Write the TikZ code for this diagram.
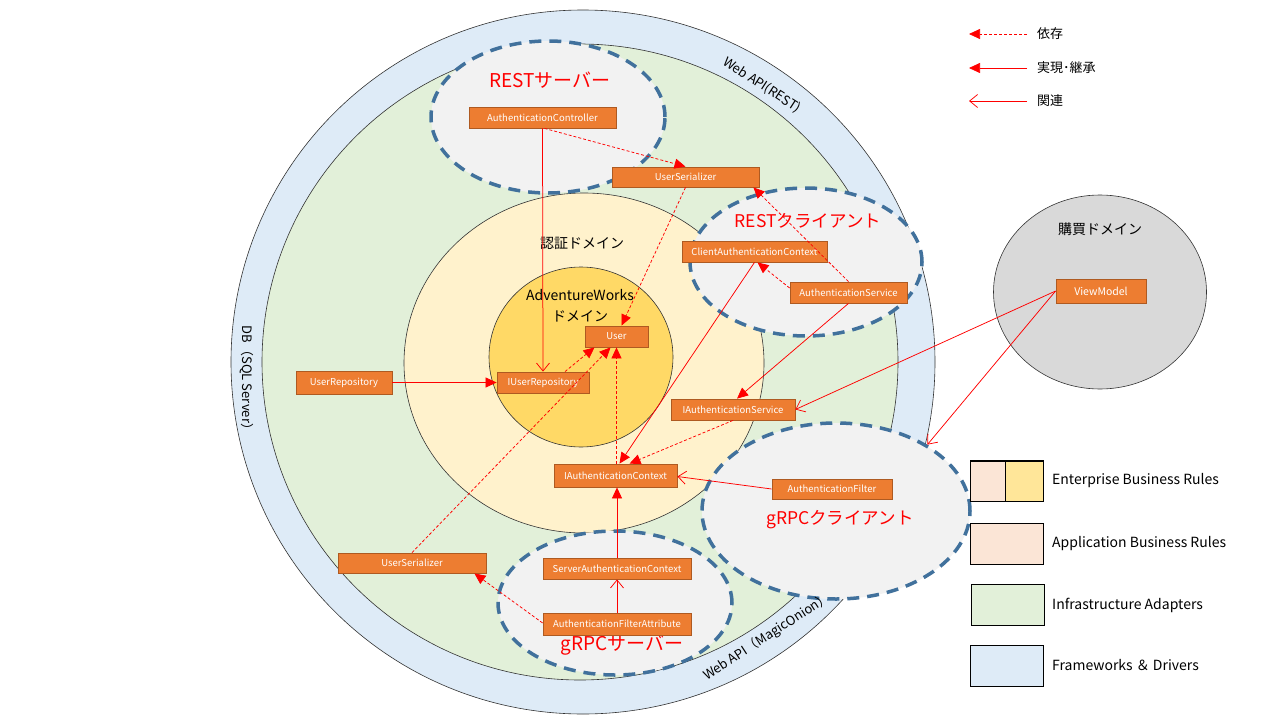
\documentclass[tikz,border=0pt]{standalone}
\usepackage{fontspec}
\setmainfont{Noto Sans CJK JP}
\usetikzlibrary{arrows.meta,shapes.geometric}
\definecolor{fwblue}{HTML}{DEEBF7}
\definecolor{infgreen}{HTML}{E2F0D9}
\definecolor{appyellow}{HTML}{FFF2CC}
\definecolor{entgold}{HTML}{FFD966}
\definecolor{zonegray}{HTML}{F2F2F2}
\definecolor{zoneedge}{HTML}{41719C}
\definecolor{boxorange}{HTML}{ED7D31}
\definecolor{boxedge}{HTML}{AE5A21}
\definecolor{domgray}{HTML}{D9D9D9}
\definecolor{lgpink}{HTML}{FBE5D6}
\definecolor{lgyellow}{HTML}{FFE699}
\definecolor{arrred}{HTML}{FF0000}
\begin{document}
\begin{tikzpicture}[x=1pt,y=-1pt,
  cls/.style={draw=boxedge, fill=boxorange, text=white, font=\fontsize{9.5}{10}\selectfont, minimum height=21pt, inner sep=0pt, line width=0.8pt},
  zone/.style={ellipse, draw=zoneedge, fill=zonegray, line width=3.5pt, dash pattern=on 12pt off 8pt, inner sep=0pt},
  ring/.style={draw=black!80, line width=0.6pt},
  dep/.style={draw=arrred, line width=0.75pt, dash pattern=on 3pt off 2pt, -{Triangle[length=11pt,width=10pt]}},
  real/.style={draw=arrred, line width=0.75pt, -{Triangle[length=11pt,width=10pt]}},
  assoc/.style={draw=arrred, line width=0.75pt, -{Straight Barb[length=8pt,width=13pt]}},
  zonelabel/.style={text=arrred, font=\fontsize{19}{20}\selectfont, inner sep=0pt},
  domlabel/.style={font=\fontsize{14}{18}\selectfont, inner sep=0pt, align=center},
  ringlabel/.style={font=\fontsize{13}{14}\selectfont, inner sep=0pt},
  lgtext/.style={font=\fontsize{14}{15}\selectfont, anchor=west, inner sep=0pt},
  lgbox/.style={draw=black, line width=0.8pt, minimum width=73pt, minimum height=41pt, inner sep=0pt}
]
\useasboundingbox (0,0) rectangle (1280,720);

% rings
\draw[ring, fill=fwblue] (583,362) circle[radius=352pt];
\draw[ring, fill=infgreen] (580,362) circle[radius=318pt];
\draw[ring, fill=appyellow] (584,363) ellipse[x radius=180pt, y radius=170pt];
\draw[ring, fill=entgold] (581,357) ellipse[x radius=92pt, y radius=90pt];

% zones
\node[zone, minimum width=234pt, minimum height=152pt] (RS) at (548,117) {};
\node[zone, minimum width=232pt, minimum height=148pt] (RC) at (806,262) {};
\node[zone, minimum width=268pt, minimum height=176pt] (GC) at (836,511) {};
\node[zone, minimum width=234pt, minimum height=144pt] (GS) at (615,603) {};

% purchase domain
\node[ellipse, draw=black!80, fill=domgray, line width=0.6pt, minimum width=213pt, minimum height=194pt, inner sep=0pt] (PD) at (1100,292) {};

% ring labels
\node[ringlabel, rotate=-33] (WR) at (762,85) {Web API(REST)};
\node[ringlabel, rotate=33] (WM) at (767,637) {Web API（MagicOnion）};
\node[ringlabel, rotate=-90] (DB) at (247,381) {DB（SQL Server）};

% domain labels
\node[domlabel] (AD) at (582,243) {認証ドメイン};
\node[domlabel] (AW) at (580,306) {AdventureWorks\\[3pt]ドメイン};
\node[domlabel] (PDL) at (1100,229) {購買ドメイン};

% zone labels
\node[zonelabel] (RSL) at (550,80) {RESTサーバー};
\node[zonelabel, font=\fontsize{17.5}{19}\selectfont] (RCL) at (808,221) {RESTクライアント};
\node[zonelabel, font=\fontsize{17.5}{19}\selectfont] (GCL) at (840,520) {gRPCクライアント};
\node[zonelabel] (GSL) at (622,645) {gRPCサーバー};

% classes
\node[cls, minimum width=147pt] (AC) at (542.5,117.5) {AuthenticationController};
\node[cls, minimum width=147pt, minimum height=20pt] (US1) at (685.5,177) {UserSerializer};
\node[cls, minimum width=145pt] (CAC) at (754.5,251.5) {ClientAuthenticationContext};
\node[cls, minimum width=117pt] (AS) at (848.5,292.5) {AuthenticationService};
\node[cls, minimum width=63pt] (User) at (616.5,336.5) {User};
\node[cls, minimum width=92pt] (IUR) at (543,382.5) {IUserRepository};
\node[cls, minimum width=124pt] (IAS) at (733,409.5) {IAuthenticationService};
\node[cls, minimum width=96pt, minimum height=23pt] (UR) at (344,382.5) {UserRepository};
\node[cls, minimum width=123pt, minimum height=23pt] (IAC) at (615.5,475.5) {IAuthenticationContext};
\node[cls, minimum width=148pt, minimum height=20pt] (US2) at (412,563) {UserSerializer};
\node[cls, minimum width=148pt] (SAC) at (617,568.5) {ServerAuthenticationContext};
\node[cls, minimum width=148pt, minimum height=22pt] (AFA) at (617,624) {AuthenticationFilterAttribute};
\node[cls, minimum width=120pt, minimum height=20pt] (AF) at (832,489) {AuthenticationFilter};
\node[cls, minimum width=90pt, minimum height=24pt, font=\fontsize{10.5}{11}\selectfont] (VM) at (1101,291) {ViewModel};

% connectors
\draw[assoc] (AC.south) -- (IUR.north);
\draw[dep] ([xshift=2pt]AC.south) -- (US1.north);
\draw[dep] (US1.south) -- ([xshift=5pt]User.north);
\draw[dep] (AS.north) -- ([xshift=-6pt]US1.south east);
\draw[dep] ([yshift=4.5pt]AS.west) -- ([xshift=3pt]CAC.south);
\draw[real] (AS.south) -- ([xshift=4pt]IAS.north);
\draw[real] (CAC.south) -- ([xshift=4pt]IAC.north);
\draw[dep] ([xshift=22pt]IUR.north) -- ([xshift=-22pt]User.south);
\draw[dep] (US2.north) -- ([xshift=-6pt]User.south);
\draw[dep] (User.south |- IAC.north) -- (User.south);
\draw[dep] (IAS.south) -- ([xshift=14pt]IAC.north);
\draw[real] (UR.east) -- (IUR.west);
\draw[assoc] (AF.west) -- ([yshift=-1pt]IAC.east);
\draw[assoc] (VM.west) -- (IAS.east);
\draw[assoc] (VM.west) -- (GC.36);
\draw[real] (SAC.north) -- (SAC.north |- IAC.south);
\draw[assoc] (AFA.north) -- (SAC.south);
\draw[dep] ([yshift=1pt]AFA.west) -- ([xshift=-12pt]US2.south east);

% legend (arrows)
\node[lgtext, font=\fontsize{13}{14}\selectfont] (LT1) at (1037,34) {依存};
\node[lgtext, font=\fontsize{13}{14}\selectfont] (LT2) at (1037,68) {実現･継承};
\node[lgtext, font=\fontsize{13}{14}\selectfont] (LT3) at (1037,101) {関連};
\coordinate (LE1) at (969,34);
\coordinate (LE2) at (969,68);
\coordinate (LE3) at (969,101);
\draw[dep] ([xshift=-10pt]LT1.west) -- (LE1);
\draw[real] ([xshift=-10pt]LT2.west) -- (LE2);
\draw[assoc] ([xshift=-10pt]LT3.west) -- (LE3);

% legend (layers)
\node[lgbox, fill=lgpink] (LB1) at (1006.5,481) {};
\fill[lgyellow] (1005,461) rectangle (1043,501);
\draw[draw=black, line width=0.8pt] (970,461) rectangle (1043,501);
\draw[draw=black, line width=0.8pt] (1005,461) -- (1005,501);
\node[lgbox, fill=lgpink] (LB2) at (1006.5,544) {};
\node[lgbox, fill=infgreen] (LB3) at (1007.5,604.5) {};
\node[lgbox, fill=fwblue] (LB4) at (1006.5,665.5) {};
\node[lgtext] (LL1) at (1052,481) {Enterprise Business Rules};
\node[lgtext] (LL2) at (1052,544) {Application Business Rules};
\node[lgtext] (LL3) at (1052,605) {Infrastructure Adapters};
\node[lgtext] (LL4) at (1052,665) {Frameworks ＆ Drivers};
\end{tikzpicture}
\end{document}
